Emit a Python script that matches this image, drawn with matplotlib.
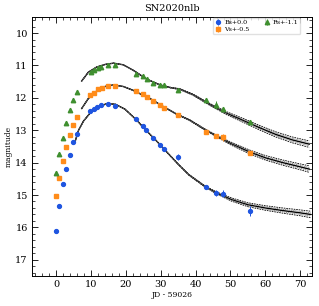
import numpy as np
import matplotlib
matplotlib.use("Agg")
import matplotlib.pyplot as plt
from matplotlib.ticker import MultipleLocator, AutoMinorLocator

plt.rcParams['font.family'] = 'serif'
plt.rcParams['font.serif'] = ['DejaVu Serif']
plt.rcParams['mathtext.fontset'] = 'dejavuserif'

# observed photometry (JD - 59026, magnitude with offsets)
tb = [0.0, 0.86, 1.9, 2.9, 3.9, 4.86, 5.9, 9.7, 10.7, 11.8, 12.8, 14.9, 16.9,
      22.9, 24.9, 25.8, 27.8, 29.9, 30.9, 34.9, 42.9, 45.9, 47.8, 55.7]
mb_obs = [16.12, 15.35, 14.67, 14.2, 13.75, 13.37, 13.11, 12.4, 12.36, 12.27, 12.22, 12.19, 12.24,
          12.66, 12.86, 12.99, 13.23, 13.46, 13.59, 13.82, 14.75, 14.94, 14.96, 15.5]
eb_obs = [0.02, 0.02, 0.02, 0.02, 0.02, 0.02, 0.02, 0.02, 0.02, 0.02, 0.02, 0.02, 0.02,
          0.02, 0.02, 0.02, 0.02, 0.02, 0.02, 0.1, 0.03, 0.08, 0.1, 0.15]

tv = [0.0, 0.86, 1.9, 2.9, 3.9, 4.86, 5.9, 9.8, 10.8, 11.9, 13.0, 14.9, 16.9,
      23.0, 24.8, 25.9, 27.9, 29.9, 30.9, 34.9, 42.9, 45.8, 47.8, 55.7]
mv_obs = [15.04, 14.46, 13.96, 13.52, 13.16, 12.83, 12.59, 11.9, 11.85, 11.74, 11.69, 11.63, 11.63,
          11.79, 11.87, 11.97, 12.11, 12.21, 12.3, 12.54, 13.05, 13.18, 13.22, 13.71]
ev_obs = [0.02, 0.02, 0.02, 0.02, 0.02, 0.02, 0.02, 0.02, 0.02, 0.02, 0.02, 0.02, 0.02,
          0.02, 0.02, 0.02, 0.02, 0.02, 0.02, 0.03, 0.03, 0.05, 0.1, 0.04]

tr = [0.0, 0.86, 1.9, 2.9, 3.9, 4.86, 5.9, 9.9, 10.9, 11.9, 12.9, 14.9, 16.9,
      23.0, 24.9, 25.9, 27.9, 29.9, 30.9, 34.9, 42.9, 45.9, 47.8, 55.7]
mr_obs = [14.31, 13.74, 13.23, 12.78, 12.38, 12.06, 11.82, 11.19, 11.13, 11.07, 11.05, 11.0, 11.0,
          11.27, 11.34, 11.43, 11.54, 11.6, 11.6, 11.75, 12.06, 12.21, 12.36, 12.74]
er_obs = [0.02, 0.02, 0.02, 0.02, 0.02, 0.02, 0.02, 0.02, 0.02, 0.02, 0.02, 0.02, 0.02,
          0.02, 0.02, 0.02, 0.02, 0.02, 0.02, 0.03, 0.05, 0.12, 0.08, 0.04]

# model curves and their spread
xb_mod = [5.4, 6.4, 7.8, 9.7, 12.0, 14.5, 17.0, 19.7, 23.0, 26.0, 28.5, 31.6, 35.0,
          38.1, 42.6, 45.9, 50.3, 55.0, 60.0, 65.0, 70.0, 73.0]
mb_mod = [13.35, 13.0, 12.72, 12.47, 12.28, 12.18, 12.2, 12.35, 12.68, 13.03, 13.3, 13.66, 14.05,
          14.38, 14.73, 14.93, 15.14, 15.3, 15.4, 15.48, 15.55, 15.6]
sb_mod = [0, 0, 0, 0, 0, 0, 0, 0, 0, 0, 0, 0.005, 0.01,
          0.015, 0.02, 0.03, 0.05, 0.06, 0.07, 0.08, 0.09, 0.1]

xv_mod = [7.3, 9.2, 11.6, 14.0, 16.4, 19.2, 22.1, 24.5, 26.9, 30.7, 34.5, 38.3, 43.0,
          46.9, 50.3, 55.7, 60.0, 65.0, 70.0, 72.6]
mv_mod = [12.33, 12.02, 11.79, 11.65, 11.6, 11.65, 11.77, 11.9, 12.02, 12.27, 12.5, 12.69, 13.0,
          13.23, 13.42, 13.68, 13.85, 14.0, 14.13, 14.2]
sv_mod = [0, 0, 0, 0, 0, 0, 0, 0, 0, 0.005, 0.01, 0.015, 0.02,
          0.03, 0.045, 0.06, 0.07, 0.08, 0.09, 0.1]

xr_mod = [7.3, 9.2, 11.6, 14.0, 16.4, 19.2, 22.1, 25.9, 29.7, 33.0, 35.4, 39.2, 44.0,
          48.8, 53.5, 58.3, 63.0, 67.8, 72.6]
mr_mod = [11.48, 11.21, 11.05, 10.97, 10.93, 10.98, 11.15, 11.42, 11.6, 11.69, 11.73, 11.9, 12.2,
          12.47, 12.69, 12.92, 13.13, 13.3, 13.43]
sr_mod = [0, 0, 0, 0, 0, 0, 0, 0, 0.005, 0.01, 0.015, 0.02, 0.03,
          0.045, 0.06, 0.07, 0.08, 0.09, 0.1]

bands = [
    ('Bs+0.0', 'o', '#1f55e0', 2.8, tb, mb_obs, eb_obs, xb_mod, mb_mod, sb_mod),
    ('Vs+-0.5', 's', '#ff8c1a', 3.2, tv, mv_obs, ev_obs, xv_mod, mv_mod, sv_mod),
    ('Rs+-1.1', '^', '#3f8f2f', 3.2, tr, mr_obs, er_obs, xr_mod, mr_mod, sr_mod),
]

fig = plt.figure(figsize=(3.19, 3.06), dpi=100)
ax = fig.add_axes([0.1, 0.098, 0.877, 0.847])

for lab, mk, col, ms, t, m, e, xm, mm, sm in bands:
    xm = np.array(xm); mm = np.array(mm); sm = np.array(sm)
    ax.plot(xm, mm, color='k', lw=1.0, zorder=3)
    ax.plot(xm, mm - sm, color='k', lw=0.6, ls=(0, (2, 1)), zorder=3)
    ax.plot(xm, mm + sm, color='k', lw=0.6, ls=(0, (2, 1)), zorder=3)
    ax.plot(xm, mm - sm / 2, color='0.4', lw=0.5, ls=(0, (2, 1)), zorder=3)
    ax.plot(xm, mm + sm / 2, color='0.4', lw=0.5, ls=(0, (2, 1)), zorder=3)
    ax.errorbar(t, m, yerr=e, fmt=mk, color=col, ms=ms, elinewidth=0.7, capsize=0,
                label=lab, zorder=4)

ax.set_xlim(-7, 73.3)
ax.set_ylim(17.5, 9.5)
ax.xaxis.set_major_locator(MultipleLocator(10))
ax.yaxis.set_major_locator(MultipleLocator(1))
ax.xaxis.set_minor_locator(AutoMinorLocator(5))
ax.yaxis.set_minor_locator(AutoMinorLocator(5))
ax.tick_params(which='both', direction='in', top=True, right=True, labelsize=7, pad=3)
ax.tick_params(which='major', length=4, width=0.6)
ax.tick_params(which='minor', length=2, width=0.5)
for sp in ax.spines.values():
    sp.set_linewidth(0.7)

ax.set_title('SN2020nlb', fontsize=7, pad=4)
ax.set_xlabel('JD - 59026', fontsize=5.5, labelpad=1)
ax.set_ylabel('magnitude', fontsize=5.5, labelpad=2)
ax.legend(loc='upper right', bbox_to_anchor=(0.96, 0.997), ncol=2, fontsize=4.6,
          frameon=True, handletextpad=0.4, columnspacing=2.2, borderpad=0.35,
          labelspacing=0.2, handlelength=1.0, borderaxespad=0.0, framealpha=0.8,
          edgecolor='0.85')

fig.savefig('out.png', dpi=100)
